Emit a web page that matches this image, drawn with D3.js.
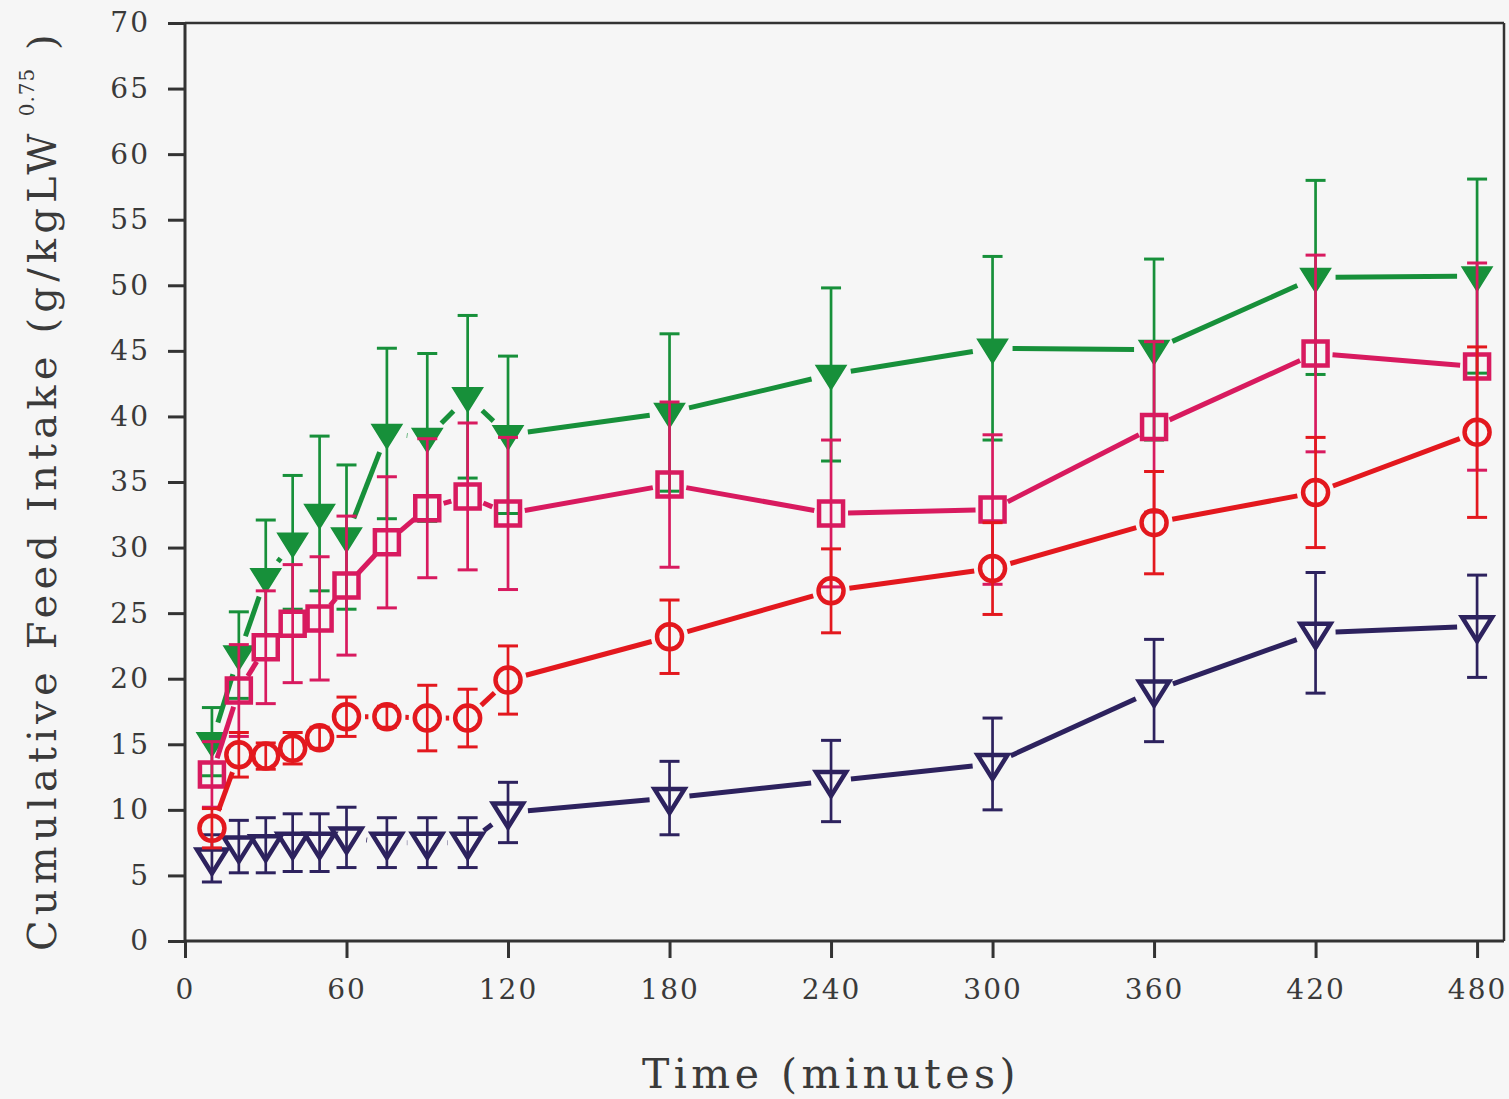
<!DOCTYPE html>
<html>
<head>
<meta charset="utf-8">
<script src="https://cdn.jsdelivr.net/npm/d3@7"></script>
<style>
  html, body { margin: 0; padding: 0; background: #f6f6f6; }
  svg { display: block; }
  text { font-family: "DejaVu Serif", "Liberation Serif", serif; }
</style>
</head>
<body>
<svg id="chart" width="1509" height="1099"></svg>
<script>
// Sampling times (minutes)
const times = [10, 20, 30, 40, 50, 60, 75, 90, 105, 120, 180, 240, 300, 360, 420, 480];

// Mean cumulative intake and standard errors per treatment
const greenMean = [15.2, 21.8, 27.7, 30.4, 32.6, 30.8, 38.7, 38.4, 41.5, 38.6, 40.3, 43.2, 45.2, 45.1, 50.6, 50.7];
const greenErr  = [2.6, 3.3, 4.4, 5.1, 5.9, 5.5, 6.5, 6.4, 6.2, 6.0, 6.0, 6.6, 7.0, 6.9, 7.4, 7.4];
const pinkMean  = [12.7, 19.1, 22.4, 24.2, 24.6, 27.1, 30.4, 33.0, 33.9, 32.6, 34.8, 32.6, 32.9, 39.2, 44.8, 43.8];
const pinkErr   = [2.5, 3.5, 4.3, 4.5, 4.7, 5.3, 5.0, 5.3, 5.6, 5.8, 6.3, 5.6, 5.7, 6.5, 7.5, 7.9];
const redMean   = [8.6, 14.2, 14.1, 14.7, 15.5, 17.1, 17.1, 17.0, 17.0, 19.9, 23.2, 26.7, 28.4, 31.9, 34.2, 38.8];
const redErr    = [1.5, 1.7, 1.0, 1.2, 0.8, 1.5, 0.8, 2.5, 2.2, 2.6, 2.8, 3.2, 3.5, 3.9, 4.2, 6.5];
const navyMean  = [6.3, 7.2, 7.3, 7.5, 7.5, 7.9, 7.5, 7.5, 7.5, 9.8, 10.9, 12.2, 13.5, 19.1, 23.5, 24.0];
const navyErr   = [1.8, 2.0, 2.1, 2.2, 2.2, 2.3, 1.9, 1.9, 1.9, 2.3, 2.8, 3.1, 3.5, 3.9, 4.6, 3.9];

// Axis ticks and titles
const xTicks = [0, 60, 120, 180, 240, 300, 360, 420, 480];
const yTicks = [0, 5, 10, 15, 20, 25, 30, 35, 40, 45, 50, 55, 60, 65, 70];
const xTitle = "Time (minutes)";
const yTitleMain = "Cumulative Feed Intake (g/kgLW";
const yTitleSup = "0.75";
const yTitleEnd = " )";

const series = [
  { name: "navy",  mean: navyMean,  err: navyErr,  color: "#2d225e", marker: "triOpen" },
  { name: "green", mean: greenMean, err: greenErr, color: "#17903a", marker: "triFilled" },
  { name: "pink",  mean: pinkMean,  err: pinkErr,  color: "#d81a5f", marker: "square" },
  { name: "red",   mean: redMean,   err: redErr,   color: "#e3181e", marker: "circle" }
];

(function draw() {
  const svg = d3.select("#chart");
  const bg = "#f6f6f6";
  svg.append("rect").attr("width", 1509).attr("height", 1099).attr("fill", bg);

  const plotLeft = 185, plotRight = 1504, plotTop = 23, plotBottom = 941;
  const x = d3.scaleLinear().domain([0, 490]).range([plotLeft, plotRight]);
  const y = d3.scaleLinear().domain([0, 70]).range([plotBottom, plotTop]);

  const axisColor = "#333";

  // Frame top and right
  svg.append("line").attr("x1", plotLeft).attr("x2", plotRight).attr("y1", plotTop).attr("y2", plotTop)
    .attr("stroke", axisColor).attr("stroke-width", 2.5);
  svg.append("line").attr("x1", plotRight).attr("x2", plotRight).attr("y1", plotTop).attr("y2", plotBottom)
    .attr("stroke", axisColor).attr("stroke-width", 2.5);

  // Axes
  const yAxis = svg.append("g").attr("transform", `translate(${plotLeft},0)`)
    .call(d3.axisLeft(y).tickValues(yTicks).tickSize(17).tickPadding(18).tickSizeOuter(0));
  const xAxis = svg.append("g").attr("transform", `translate(0,${plotBottom})`)
    .call(d3.axisBottom(x).tickValues(xTicks).tickSize(17).tickPadding(21).tickSizeOuter(0));

  [xAxis, yAxis].forEach(g => {
    g.select(".domain").attr("stroke", axisColor).attr("stroke-width", 3);
    g.selectAll(".tick line").attr("stroke", axisColor).attr("stroke-width", 3);
    g.selectAll(".tick text").attr("font-size", 28).attr("fill", "#3a3a3a")
      .attr("letter-spacing", 2).style("font-family", '"DejaVu Serif", serif');
  });
  xAxis.select(".domain").attr("d", `M${plotLeft},0H${plotRight}`);
  yAxis.select(".domain").attr("d", `M0,${plotTop}V${plotBottom}`);

  // Axis titles
  svg.append("text")
    .attr("x", 831).attr("y", 1088)
    .attr("text-anchor", "middle")
    .attr("font-size", 41).attr("letter-spacing", 4.5).attr("fill", "#3a3a3a")
    .text(xTitle);

  const yt = svg.append("text")
    .attr("transform", "translate(56,490) rotate(-90)")
    .attr("text-anchor", "middle")
    .attr("font-size", 40).attr("letter-spacing", 5.2).attr("fill", "#3a3a3a");
  yt.append("tspan").text(yTitleMain);
  yt.append("tspan").attr("font-size", 20).attr("dy", -22).attr("dx", 12).attr("letter-spacing", 1).text(yTitleSup);
  yt.append("tspan").attr("dy", 22).text(yTitleEnd);

  // Marker geometry
  const markerSize = { triOpen: 15, triFilled: 15, square: 12, circle: 13.5 };

  function markerPath(type) {
    if (type === "triOpen" || type === "triFilled") {
      return "M-15,-9L15,-9L0,15Z"; // downward triangle
    }
    if (type === "square") return "M-12,-12H12V12H-12Z";
    return null;
  }

  const plot = svg.append("g");

  series.forEach(s => {
    const g = plot.append("g").attr("class", "series-" + s.name);
    const pts = times.map((t, i) => ({ t, v: s.mean[i], e: s.err[i] }));
    const gap = markerSize[s.marker] + 5;

    // Connecting segments, stopping short of each marker
    for (let i = 0; i < pts.length - 1; i++) {
      const x1 = x(pts[i].t), y1 = y(pts[i].v);
      const x2 = x(pts[i + 1].t), y2 = y(pts[i + 1].v);
      const len = Math.hypot(x2 - x1, y2 - y1);
      if (len <= 2 * gap) continue;
      const ux = (x2 - x1) / len, uy = (y2 - y1) / len;
      g.append("line")
        .attr("x1", x1 + ux * gap).attr("y1", y1 + uy * gap)
        .attr("x2", x2 - ux * gap).attr("y2", y2 - uy * gap)
        .attr("stroke", s.color).attr("stroke-width", 5).attr("stroke-linecap", "butt");
    }

    // Error bars
    const eb = g.selectAll(".eb").data(pts).enter().append("g");
    eb.append("line")
      .attr("x1", d => x(d.t)).attr("x2", d => x(d.t))
      .attr("y1", d => y(d.v + d.e)).attr("y2", d => y(d.v - d.e))
      .attr("stroke", s.color).attr("stroke-width", 2.7);
    [1, -1].forEach(sign => {
      eb.append("line")
        .attr("x1", d => x(d.t) - 10).attr("x2", d => x(d.t) + 10)
        .attr("y1", d => y(d.v + sign * d.e)).attr("y2", d => y(d.v + sign * d.e))
        .attr("stroke", s.color).attr("stroke-width", 3);
    });

    // Markers
    const mk = g.selectAll(".mk").data(pts).enter().append("g")
      .attr("transform", d => `translate(${x(d.t)},${y(d.v)})`);
    if (s.marker === "circle") {
      mk.append("circle").attr("r", 12.5)
        .attr("fill", "none").attr("stroke", s.color).attr("stroke-width", 4.5);
    } else if (s.marker === "triFilled") {
      mk.append("path").attr("d", markerPath(s.marker))
        .attr("fill", s.color).attr("stroke", s.color).attr("stroke-width", 1.5);
    } else {
      mk.append("path").attr("d", markerPath(s.marker))
        .attr("fill", "none").attr("stroke", s.color).attr("stroke-width", 4.5);
    }
  });
})();
</script>
</body>
</html>
